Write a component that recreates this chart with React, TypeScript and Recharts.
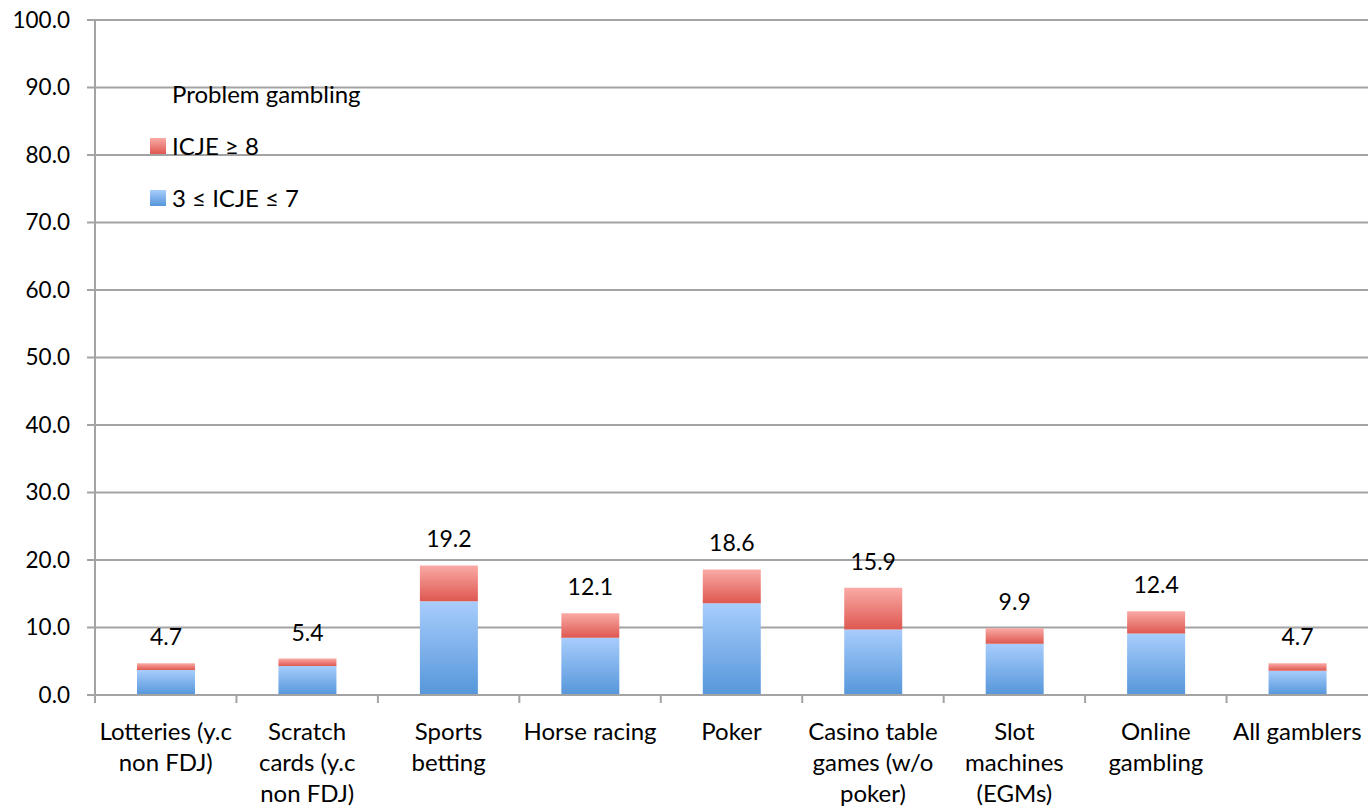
import { BarChart, Bar, XAxis, YAxis, CartesianGrid, LabelList } from 'recharts'

// categories (line breaks as in the original axis)
const categories = [
  'Lotteries (y.c\nnon FDJ)',
  'Scratch\ncards (y.c\nnon FDJ)',
  'Sports\nbetting',
  'Horse racing',
  'Poker',
  'Casino table\ngames (w/o\npoker)',
  'Slot\nmachines\n(EGMs)',
  'Online\ngambling',
  'All gamblers',
]
const moderate = [3.7, 4.3, 13.9, 8.5, 13.6, 9.7, 7.6, 9.1, 3.6] // 3 ≤ ICJE ≤ 7
const severe = [1.0, 1.1, 5.3, 3.6, 5.0, 6.2, 2.3, 3.3, 1.1] // ICJE ≥ 8
const totals = [4.7, 5.4, 19.2, 12.1, 18.6, 15.9, 9.9, 12.4, 4.7]
const yTicks = [0, 10, 20, 30, 40, 50, 60, 70, 80, 90, 100]

const data = categories.map((name, i) => ({
  name,
  moderate: moderate[i],
  severe: severe[i],
  total: totals[i],
}))

const GRID = '#a3a3a3'
const FONT = 'Lato, "Open Sans", sans-serif'

const CategoryTick = (props: any) => {
  const { x, y, payload } = props
  const half = payload?.offset ?? 70.7
  const lines = String(payload.value).split('\n')
  return (
    <g>
      <line x1={x - half} y1={y} x2={x - half} y2={y + 8} stroke={GRID} strokeWidth={2} />
      <text x={x} y={y + 45} textAnchor="middle" fill="#000" fontSize={24}>
        {lines.map((l, i) => (
          <tspan key={i} x={x} dy={i === 0 ? 0 : 31}>
            {l}
          </tspan>
        ))}
      </text>
    </g>
  )
}

const Swatch = ({ id }: { id: string }) => (
  <svg width={16} height={16} style={{ marginRight: 6 }}>
    <rect x={0} y={0} width={16} height={16} fill={`url(#${id})`} />
  </svg>
)

export default function App() {
  return (
    <div style={{ position: 'absolute', left: 0, top: 0, width: 1368, height: 808, fontFamily: FONT, background: '#fff' }}>
      <BarChart
        width={1368}
        height={808}
        data={data}
        margin={{ top: 20, right: 0, left: 0, bottom: 0 }}
        barCategoryGap={0}
      >
        <defs>
          <linearGradient id="gBlue" x1="0" y1="0" x2="0" y2="1">
            <stop offset="0%" stopColor="#a8cdfc" />
            <stop offset="100%" stopColor="#5596da" />
          </linearGradient>
          <linearGradient id="gRed" x1="0" y1="0" x2="0" y2="1">
            <stop offset="0%" stopColor="#faaaa6" />
            <stop offset="100%" stopColor="#de5850" />
          </linearGradient>
        </defs>
        <CartesianGrid vertical={false} stroke={GRID} strokeWidth={2} />
        <XAxis
          dataKey="name"
          height={113}
          interval={0}
          tickSize={0}
          tickMargin={0}
          axisLine={{ stroke: GRID, strokeWidth: 2 }}
          tickLine={false}
          tick={<CategoryTick />}
        />
        <YAxis
          width={95}
          domain={[0, 100]}
          ticks={yTicks}
          interval={0}
          tickFormatter={(v: number) => v.toFixed(1)}
          tickSize={8}
          tickMargin={17}
          axisLine={{ stroke: GRID, strokeWidth: 2 }}
          tickLine={{ stroke: GRID, strokeWidth: 2 }}
          tick={{ fill: '#000', fontSize: 22.5 }}
        />
        <Bar dataKey="moderate" name="3 ≤ ICJE ≤ 7" stackId="a" fill="url(#gBlue)" barSize={58} isAnimationActive={false} />
        <Bar dataKey="severe" name="ICJE ≥ 8" stackId="a" fill="url(#gRed)" barSize={58} isAnimationActive={false}>
          <LabelList
            dataKey="total"
            position="top"
            offset={18}
            fill="#000"
            fontSize={23}
            formatter={(v: any) => Number(v).toFixed(1)}
          />
        </Bar>
      </BarChart>
      <div style={{ position: 'absolute', left: 150, top: 80, fontSize: 24, color: '#000', lineHeight: '28px' }}>
        <div style={{ marginLeft: 22 }}>Problem gambling</div>
        <div style={{ display: 'flex', alignItems: 'center', marginTop: 24 }}>
          <Swatch id="gRed" />
          ICJE ≥ 8
        </div>
        <div style={{ display: 'flex', alignItems: 'center', marginTop: 24 }}>
          <Swatch id="gBlue" />3 ≤ ICJE ≤ 7
        </div>
      </div>
    </div>
  )
}
